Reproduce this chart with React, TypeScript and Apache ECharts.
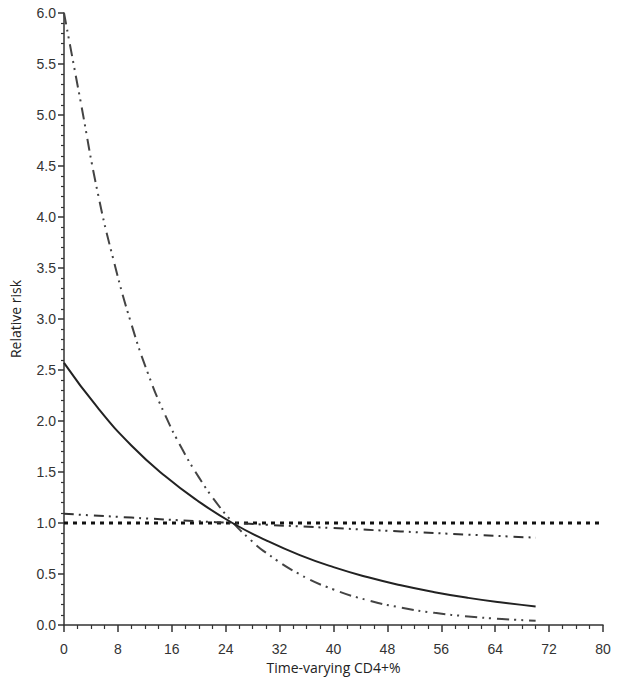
import React, { useEffect, useRef } from "react";
import * as echarts from "echarts";

// Solid curve
const solidX = [0, 5, 10, 15, 20, 25, 30, 35, 40, 45, 50, 55, 60, 65, 70];
const solidY = [2.57, 2.13, 1.76, 1.46, 1.21, 1.0, 0.83, 0.685, 0.567, 0.47, 0.389, 0.322, 0.266, 0.22, 0.182];

// Steep dash-dot-dot curve
const steepX = [0, 2.5, 5, 7.5, 10, 12.5, 15, 17.5, 20, 22.5, 25, 27.5, 30, 35, 40, 45, 50, 55, 60, 65, 70];
const steepY = [6.0, 5.12, 4.24, 3.54, 2.95, 2.46, 2.06, 1.73, 1.45, 1.21, 1.01, 0.846, 0.708, 0.496, 0.348, 0.244, 0.171, 0.119, 0.084, 0.059, 0.041];

// Flat dash-dot curve
const flatX = [0, 10, 20, 25, 30, 40, 50, 60, 70];
const flatY = [1.09, 1.053, 1.017, 1.0, 0.983, 0.95, 0.917, 0.886, 0.856];

// Reference line
const refX = [0, 80];
const refY = [1.0, 1.0];

const pairs = (xs: number[], ys: number[]) => xs.map((x, i) => [x, ys[i]]);

export default function App() {
  const ref = useRef<HTMLDivElement>(null);
  useEffect(() => {
    if (!ref.current) return;
    const chart = echarts.init(ref.current, undefined, { renderer: "svg" });
    const labelFont = { fontFamily: "Liberation Sans", fontSize: 14, color: "#333" };
    chart.setOption({
      animation: false,
      backgroundColor: "#fff",
      grid: { left: 62, right: 18, top: 13, bottom: 61 },
      xAxis: {
        type: "value",
        min: 0,
        max: 80,
        interval: 8,
        offset: 7,
        name: "Time-varying CD4+%",
        nameLocation: "middle",
        nameGap: 28,
        nameTextStyle: { fontFamily: "Open Sans", fontSize: 14, color: "#222" },
        axisLine: { show: true, lineStyle: { color: "#333", width: 1.5 } },
        axisTick: { show: true, length: 7, lineStyle: { color: "#333", width: 1.5 } },
        minorTick: { show: true, splitNumber: 4, length: 4, lineStyle: { color: "#333", width: 1.2 } },
        axisLabel: { ...labelFont, margin: 10 },
        splitLine: { show: false },
      },
      yAxis: {
        type: "value",
        min: 0,
        max: 6,
        interval: 0.5,
        name: "Relative risk",
        nameLocation: "middle",
        nameGap: 42,
        nameTextStyle: { fontFamily: "Open Sans", fontSize: 14, color: "#222" },
        axisLine: { show: true, lineStyle: { color: "#333", width: 1.5 } },
        axisTick: { show: true, length: 6, lineStyle: { color: "#333", width: 1.5 } },
        minorTick: { show: true, splitNumber: 5, length: 3, lineStyle: { color: "#333", width: 1.2 } },
        axisLabel: { ...labelFont, margin: 8, formatter: (v: number) => v.toFixed(1) },
        splitLine: { show: false },
      },
      series: [
        {
          type: "line",
          data: pairs(refX, refY),
          showSymbol: false,
          lineStyle: { color: "#111", width: 3, type: [4, 5] },
          z: 1,
        },
        {
          type: "line",
          data: pairs(flatX, flatY),
          showSymbol: false,
          smooth: true,
          lineStyle: { color: "#333", width: 2, type: [10, 5, 2, 5, 2, 6] },
        },
        {
          type: "line",
          data: pairs(steepX, steepY),
          showSymbol: false,
          smooth: true,
          lineStyle: { color: "#444", width: 2, type: [12, 5, 2, 5, 2, 6] },
        },
        {
          type: "line",
          data: pairs(solidX, solidY),
          showSymbol: false,
          smooth: true,
          lineStyle: { color: "#222", width: 2 },
        },
      ],
    });
    return () => chart.dispose();
  }, []);
  return (
    <div
      ref={ref}
      style={{ position: "fixed", left: 0, top: 0, width: 621, height: 686, background: "#fff" }}
    />
  );
}
